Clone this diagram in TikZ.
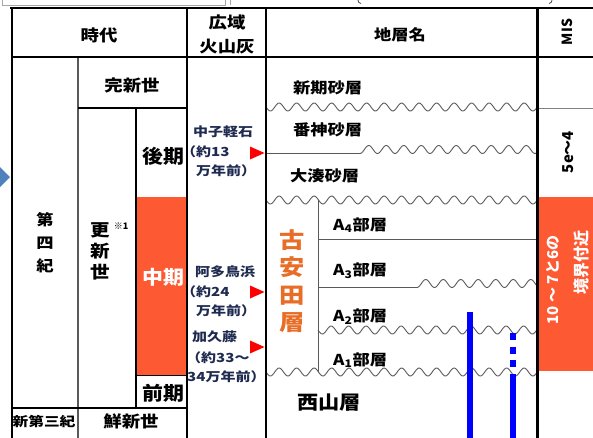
\documentclass[tikz,border=0pt]{standalone}
\usepackage{fontspec}
\setmainfont{Noto Sans CJK JP}
\definecolor{orng}{RGB}{253,90,52}
\definecolor{koyasuda}{RGB}{232,110,40}
\definecolor{navy}{RGB}{30,42,80}
\definecolor{arrowblue}{RGB}{79,129,189}
\definecolor{wavegray}{RGB}{90,90,90}
\newcommand\myfs[2]{\fontsize{#1}{#2}\selectfont}
\begin{document}
\begin{tikzpicture}[x=1pt,y=-1pt,
  lbl/.style={inner sep=0pt, xscale=1.15},
  note/.style={inner sep=0pt, xscale=1.2, anchor=west, text=navy, font=\myfs{12.5}{14}\bfseries},
  layer/.style={inner sep=0pt, xscale=1.15, anchor=west, font=\myfs{15}{16}\bfseries},
  big/.style={inner sep=0pt, xscale=1.1, font=\myfs{19}{20}\bfseries},
  bord/.style={line width=2.5pt, black},
  inner/.style={line width=1.4pt, black},
  wave/.style={line width=0.9pt, wavegray},
  redtri/.style={fill=red}]
\useasboundingbox (0,0) rectangle (593,437);
% fragments of the item above the picture
\draw[gray!70, line width=0.6pt] (2,0) -- (2,5) -- (225,5) -- (225,0);
\draw[gray!70, line width=0.6pt] (230,0) -- (230,5);
\draw[gray!60!black, line width=0.8pt] (358,0) .. controls (358.5,2.5) .. (361,3.5);
\draw[gray!60!black, line width=0.8pt] (552,0) .. controls (551.5,2.5) .. (549,3.5);
% blue arrow tip at left
\fill[arrowblue] (-8,159) -- (10,177) -- (-8,195) -- cycle;
% orange blocks
\fill[orng] (136,197) rectangle (187,375);
\fill[orng] (537,197) rectangle (600,371);
% inner lines of the era column
\draw[line width=1.3pt, gray!70!black] (78,57) -- (78,440);
\draw[inner] (78,108) -- (187,108);
\draw[inner] (136,108) -- (136,408);
\draw[line width=1pt] (136,375) -- (187,375);
\draw[inner] (12,408) -- (187,408);
\draw[line width=0.8pt, gray] (537,108) -- (600,108);
% layer boundaries
\draw[wave] plot[domain=266:537, samples=250] (\x,{107+4*sin(20.5714*(\x-266))});
\draw[wave] (266,153) -- (360,153);
\draw[wave] plot[domain=360:537, samples=180] (\x,{149.5+4*cos(20.5714*(\x-360))});
\draw[wave] plot[domain=266:537, samples=250] (\x,{200+4*sin(20.5714*(\x-266))});
\draw[wave] (318,200) -- (318,372);
\draw[wave] (318,239) -- (537,239);
\draw[wave] (318,287) -- (417,287);
\draw[wave] plot[domain=417:537, samples=130] (\x,{283.5+4*cos(20.5714*(\x-417))});
\draw[wave] plot[domain=318:537, samples=220] (\x,{330+4*sin(20.5714*(\x-318))});
\draw[wave] plot[domain=266:537, samples=250] (\x,{372+4*sin(20.5714*(\x-266))});
% blue lines
\draw[blue, line width=6pt] (470,312) -- (470,440);
\draw[blue, line width=5.5pt, dash pattern=on 7pt off 6.5pt on 7pt off 6.5pt on 7pt off 7pt on 100pt] (513,333) -- (513,440);
% main borders
\draw[bord, line width=2.8pt] (10,8) -- (600,8);
\draw[bord] (11,57) -- (600,57);
\draw[bord] (12,8) -- (12,440);
\draw[bord] (187,8) -- (187,440);
\draw[bord] (266,8) -- (266,440);
\draw[bord, line width=3pt] (537,8) -- (537,440);
% red triangles
\fill[redtri] (250,146.5) -- (264.5,153) -- (250,159.5) -- cycle;
\fill[redtri] (250,285.5) -- (264.5,292) -- (250,298.5) -- cycle;
\fill[redtri] (250,340.5) -- (264.5,347) -- (250,353.5) -- cycle;
% header texts
\node[lbl, font=\myfs{16}{16}\bfseries] (h1) at (99,35) {時代};
\node[lbl, font=\myfs{16}{24}\bfseries, align=center] (h2) at (227,34) {広域\\火山灰};
\node[lbl, font=\myfs{15}{16}\bfseries] (h3) at (400,35) {地層名};
\node[inner sep=0pt, rotate=90, font=\myfs{14}{14}\bfseries] (h4) at (567,32) {MIS};
% era column
\node[lbl, font=\myfs{16}{16}\bfseries] (e1) at (132,85) {完新世};
\node[lbl, font=\myfs{15}{23}\bfseries, align=center] (e2) at (45,243) {第\\四\\紀};
\node[lbl, font=\myfs{17}{21}\bfseries, align=center] (e3) at (100,251) {更\\新\\世};
\node[inner sep=0pt, font=\myfs{9}{9}\bfseries] (e3n) at (121,226) {※1};
\node[big] (e4) at (163,156) {後期};
\node[big, text=white] (e5) at (163,277) {中期};
\node[big] (e6) at (163,393) {前期};
\node[lbl, font=\myfs{13}{13}\bfseries, xscale=1.05] (e7) at (44,421) {新第三紀};
\node[lbl, font=\myfs{16}{16}\bfseries] (e8) at (131,421) {鮮新世};
% tephra column
\node[note] (t1) at (193,132) {中子軽石};
\node[note] (t1a) at (181,152) {（約13};
\node[note] (t1b) at (196,171) {万年前）};
\node[note] (t2) at (195,272) {阿多鳥浜};
\node[note] (t2a) at (181,292) {（約24};
\node[note] (t2b) at (196,311) {万年前）};
\node[note] (t3) at (192,337) {加久藤};
\node[note] (t3a) at (186,358) {（約33～};
\node[note] (t3b) at (187,377) {34万年前）};
% formation column
\node[layer] (l1) at (293,88) {新期砂層};
\node[layer] (l2) at (293,130) {番神砂層};
\node[layer] (l3) at (290,176) {大湊砂層};
\node[lbl, font=\myfs{22}{27.5}\bfseries, text=koyasuda, align=center] (l4) at (292,281) {古\\安\\田\\層};
\node[layer] (a4) at (333,225) {A\textsubscript{4}部層};
\node[layer] (a3) at (333,271) {A\textsubscript{3}部層};
\node[layer] (a2) at (333,317) {A\textsubscript{2}部層};
\node[layer] (a1) at (333,360) {A\textsubscript{1}部層};
\node[layer, font=\myfs{19}{20}\bfseries, xscale=0.97] (l5) at (297,403) {西山層};
% MIS column
\node[inner sep=0pt, rotate=90, font=\myfs{15}{15}\bfseries] (m1) at (568,152) {5e～4};
\node[inner sep=0pt, rotate=90, text=white, font=\myfs{15}{15}\bfseries] (m2) at (553,280) {10 ～ 7と6の};
\node[inner sep=0pt, rotate=90, text=white, font=\myfs{16}{16}\bfseries] (m3) at (581,262) {境界付近};
\end{tikzpicture}
\end{document}
